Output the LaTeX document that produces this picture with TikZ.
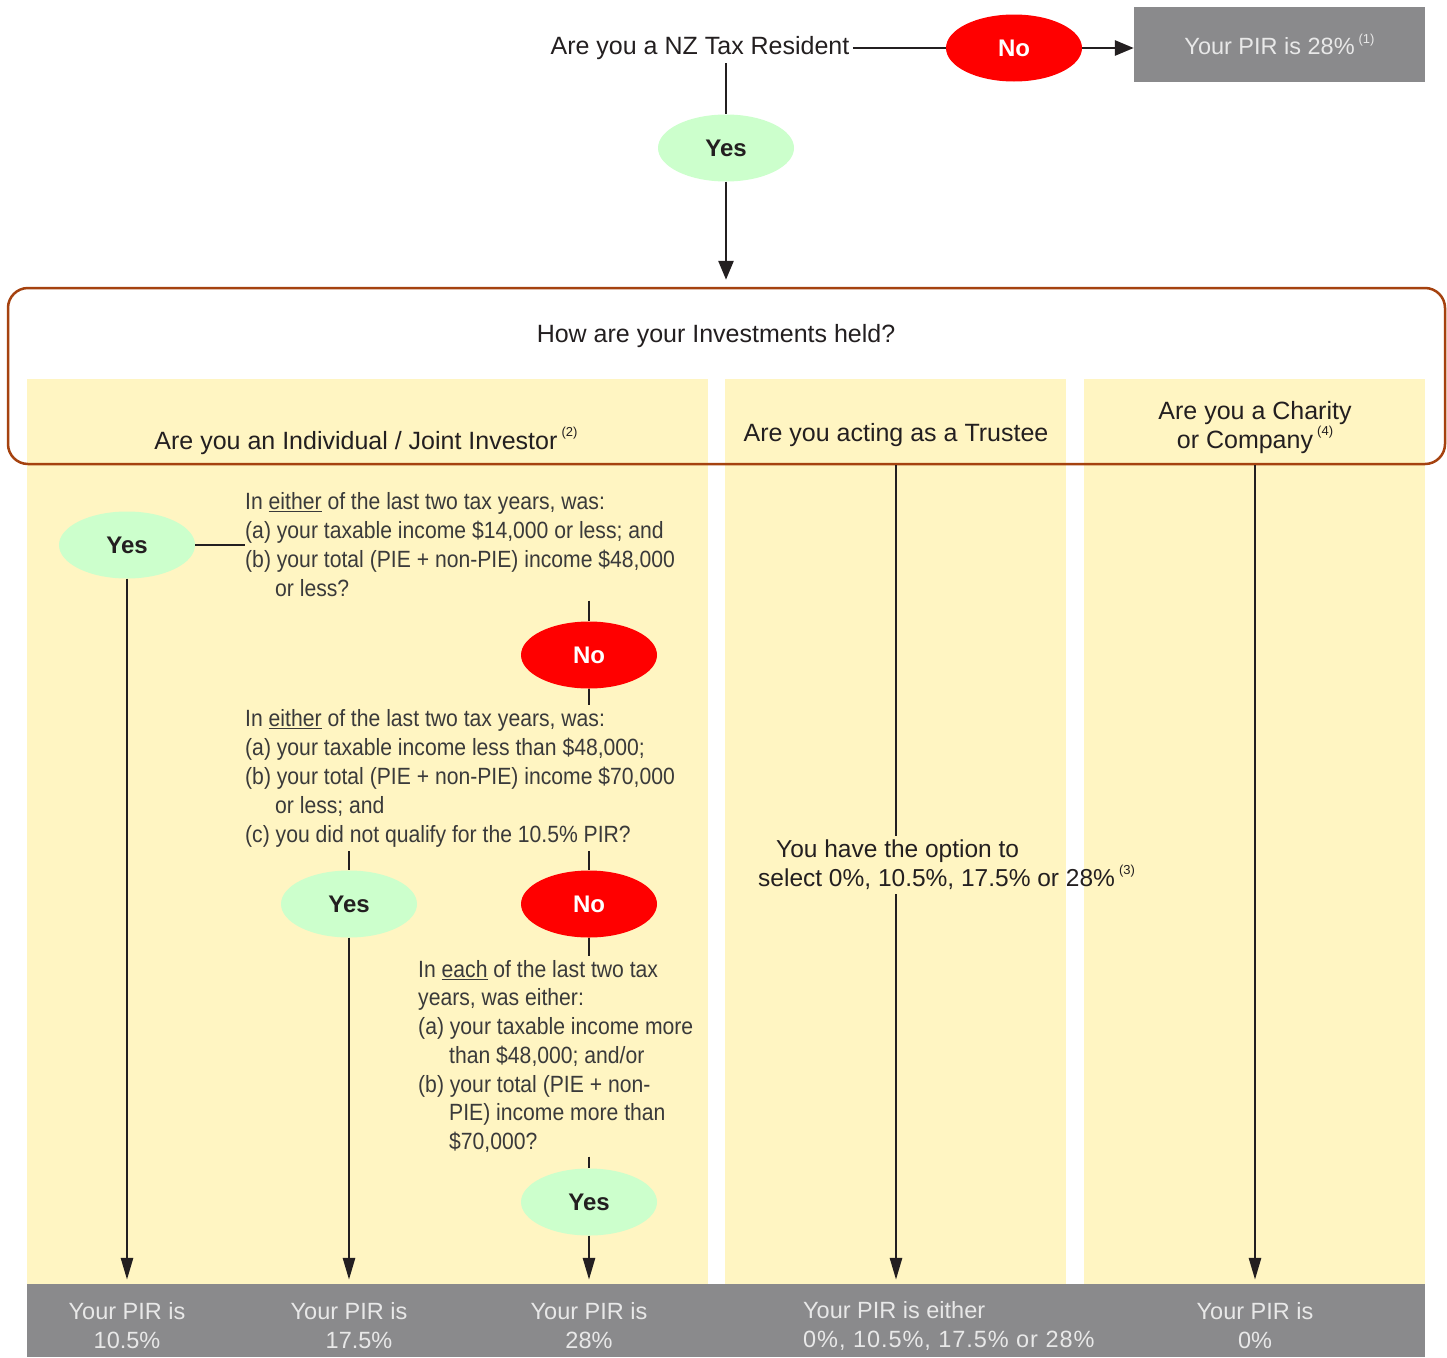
\documentclass[tikz,border=0pt]{standalone}
\usepackage{fontspec}
\setmainfont{Liberation Sans}
\newfontfamily\bodyf[FakeStretch=0.9]{Liberation Sans}
\usetikzlibrary{arrows.meta,shapes.geometric}
\definecolor{pirred}{HTML}{FF0000}
\definecolor{pirgreen}{HTML}{CCFFCC}
\definecolor{piryellow}{HTML}{FFF5C2}
\definecolor{pirgray}{HTML}{8A8A8C}
\definecolor{pirbrown}{HTML}{A5420F}
\definecolor{pirink}{HTML}{231F20}
\definecolor{pirbody}{HTML}{3A3A3A}
\definecolor{pirlight}{HTML}{E8E8E8}
\newcommand{\pirsup}[1]{\raisebox{0.5em}{\fontsize{13}{13}\selectfont(#1)}}
\begin{document}
\begin{tikzpicture}[x=1pt,y=-1pt,
  conn/.style={draw=pirink, line width=2.8pt},
  arr/.style={conn, -{Triangle[length=22pt,width=12pt]}, shorten >=4pt},
  toparr/.style={conn, -{Triangle[length=19pt,width=15pt]}},
  yesnode/.style={ellipse, fill=pirgreen, minimum width=136pt, minimum height=67pt, inner sep=0pt,
    font=\fontsize{24}{24}\selectfont\bfseries, text=pirink},
  nonode/.style={yesnode, fill=pirred, text=white},
  head/.style={font=\fontsize{25}{29}\selectfont, text=pirink, align=center},
  body/.style={font=\bodyf\fontsize{23.5}{29}\selectfont, text=pirbody, align=left,
    anchor=north west, inner xsep=0pt, inner ysep=4pt},
  result/.style={font=\fontsize{23.5}{29}\selectfont, text=pirlight, align=center},
  graybox/.style={fill=pirgray, inner sep=0pt}
]
\useasboundingbox (0,0) rectangle (1447,1357);
\fill[white] (0,0) rectangle (1447,1357);

% yellow columns
\fill[piryellow] (27,379) rectangle (708,1284);
\fill[piryellow] (725,379) rectangle (1066,1284);
\fill[piryellow] (1084,379) rectangle (1425,1284);

% bottom band
\node[graybox, minimum width=1398pt, minimum height=73pt] (band) at (726,1320.5) {};

% frame
\node[draw=pirbrown, line width=2.5pt, rounded corners=20pt, minimum width=1437pt,
      minimum height=176pt, inner sep=0pt] (frame) at (726.5,376) {};

% top part
\node[head] (q0) at (700,48) {Are you a NZ Tax Resident};
\node[nonode] (no0) at (1014,48) {No};
\node[graybox, minimum width=291pt, minimum height=75pt, font=\fontsize{23.5}{29}\selectfont,
      text=pirlight] (box0) at (1279.5,44.5) {Your PIR is 28\%\,\pirsup{1}};
\node[yesnode] (yes0) at (726,148) {Yes};
\draw[conn] (q0.east) -- (no0.west);
\draw[toparr] (no0.east) -- (no0.east -| box0.west);
\draw[conn] (q0.south -| yes0.north) -- (yes0.north);
\draw[toparr, shorten >=7pt] (yes0.south) -- (yes0.south |- frame.north);

% headers
\node[head] (title) at (716,336) {How are your Investments held?};
\node[head] (ih) at (366,441) {Are you an Individual / Joint Investor\,\pirsup{2}};
\node[head] (th) at (896,435) {Are you acting as a Trustee};
\node[head] (ch) at (1255,427.5) {Are you a Charity\\or Company\,\pirsup{4}};

% individual column
\node[yesnode] (yes1) at (127,545) {Yes};
\node[body] (t1) at (245,488) {In \underline{either} of the last two tax years, was:\\
(a) your taxable income \$14,000 or less; and\\
(b) your total (PIE + non-PIE) income \$48,000\\
\hspace*{30pt}or less?};
\node[nonode] (no1) at (589,655) {No};
\node[body] (t2) at (245,705) {In \underline{either} of the last two tax years, was:\\
(a) your taxable income less than \$48,000;\\
(b) your total (PIE + non-PIE) income \$70,000\\
\hspace*{30pt}or less; and\\
(c) you did not qualify for the 10.5\% PIR?};
\node[yesnode] (yes2) at (349,904) {Yes};
\node[nonode] (no2) at (589,904) {No};
\node[body, font=\bodyf\fontsize{23.5}{28.7}\selectfont] (t3) at (418,956) {In \underline{each} of the last two tax\\
years, was either:\\
(a) your taxable income more\\
\hspace*{31pt}than \$48,000; and/or\\
(b) your total (PIE + non-\\
\hspace*{31pt}PIE) income more than\\
\hspace*{31pt}\$70,000?};
\node[yesnode] (yes3) at (589,1202) {Yes};

\draw[conn] (yes1.east) -- (yes1.east -| t1.west);
\draw[conn] (t1.south -| no1.north) -- (no1.north);
\draw[conn] (no1.south) -- (no1.south |- t2.north);
\draw[conn] (t2.south -| yes2.north) -- (yes2.north);
\draw[conn] (t2.south -| no2.north) -- (no2.north);
\draw[conn] (no2.south) -- (no2.south |- t3.north);
\draw[conn] (t3.south -| yes3.north) -- (yes3.north);
\draw[arr] (yes1.south) -- (yes1.south |- band.north);
\draw[arr] (yes2.south) -- (yes2.south |- band.north);
\draw[arr] (yes3.south) -- (yes3.south |- band.north);

% trustee column
\node[font=\fontsize{24.5}{29}\selectfont, text=pirink, align=left, anchor=west,
      inner xsep=0pt, inner ysep=4pt] (opt) at (758,865)
  {\hspace*{18pt}You have the option to\\select 0\%, 10.5\%, 17.5\% or 28\%\,\pirsup{3}};
\draw[conn] (th |- frame.south) -- (th |- opt.north);
\draw[arr] (th |- opt.south) -- (th |- band.north);

% charity column
\draw[arr] (ch |- frame.south) -- (ch |- band.north);

% results
\node[result] (r1) at (127,1325.5) {Your PIR is\\10.5\%};
\node[result] (r2) at (349,1325.5) {Your PIR is\\\hspace*{20pt}17.5\%};
\node[result] (r3) at (589,1325.5) {Your PIR is\\28\%};
\node[result, align=left, anchor=west, inner xsep=0pt] (r4) at (803,1325.5)
  {Your PIR is either\\{\addfontfeature{LetterSpace=4}0\%, 10.5\%, 17.5\% or 28\%}};
\node[result] (r5) at (1255,1325.5) {Your PIR is\\0\%};
\end{tikzpicture}
\end{document}
